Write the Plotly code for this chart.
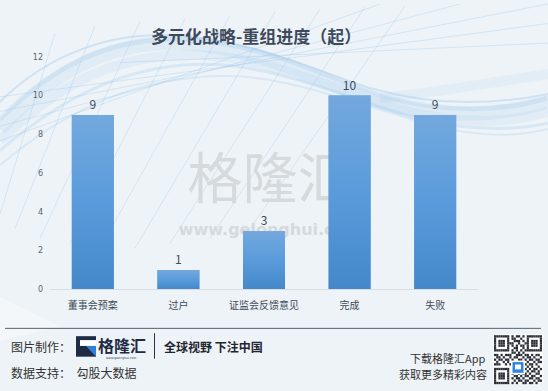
import plotly.graph_objects as go

# ---- data ----
categories = ["董事会预案", "过户", "证监会反馈意见", "完成", "失败"]
counts = [9, 1, 3, 10, 9]
y_ticks = [0, 2, 4, 6, 8, 10, 12]

W, H = 548, 391
BAR_W = 0.49
BG = "#edf3f7"
BAR_TOP = "#73a8de"
BAR_BOTTOM = "#4488c9"
TEXT_DARK = "#3e4a5c"
FONT = "Noto Sans CJK SC"


def px(x):
    return x / W


def py(y):
    return 1 - y / H


xs = list(range(len(categories)))

fig = go.Figure()

# base bars (carry value labels)
fig.add_trace(go.Bar(
    x=xs, y=counts, width=BAR_W,
    marker=dict(color="#5a9ad8", line=dict(width=0)),
    text=[str(v) for v in counts], textposition="outside",
    textfont=dict(family=FONT, size=12, color=TEXT_DARK),
    cliponaxis=False, hoverinfo="x+y", showlegend=False,
))

# vertical gradient over each bar, light at the top, darker at the base
for i, v in zip(xs, counts):
    x0, x1 = i - BAR_W / 2, i + BAR_W / 2
    fig.add_trace(go.Scatter(
        x=[x0, x1, x1, x0, x0], y=[0, 0, v, v, 0],
        mode="lines", line=dict(width=0), fill="toself",
        fillgradient=dict(type="vertical",
                          colorscale=[[0, BAR_BOTTOM], [0.5, "#5a9bdb"], [1, BAR_TOP]]),
        hoverinfo="skip", showlegend=False,
    ))

shapes = []

# decorative background: flowing light-blue ribbons and a faint mesh
ribbons = [
    ("M 0,128 C 60,60 120,38 180,40 C 260,44 320,80 380,100 C 440,118 500,115 548,100", 14, 0.14),
    ("M 0,118 C 60,55 120,34 185,36 C 265,40 325,75 385,95 C 445,112 505,110 548,96", 5, 0.18),
    ("M 0,140 C 70,70 130,50 200,52 C 270,56 330,86 400,108 C 460,124 510,122 548,110", 10, 0.12),
    ("M 0,100 C 50,50 110,30 170,32 C 250,36 310,66 370,86 C 430,104 490,104 548,92", 2, 0.3),
    ("M 0,150 C 80,80 150,58 220,62 C 290,68 350,98 420,118 C 480,132 520,128 548,122", 3, 0.22),
    ("M 0,165 C 80,95 160,70 240,74 C 310,80 370,108 440,126 C 490,138 525,134 548,128", 2, 0.2),
    ("M 380,96 C 430,92 490,80 548,72", 10, 0.1),
]
for d, w, op in ribbons:
    pts = []
    for tok in d.split():
        if "," in tok:
            a, b = tok.split(",")
            pts.append(f"{px(float(a)):.4f},{py(float(b)):.4f}")
        else:
            pts.append(tok)
    shapes.append(dict(type="path", xref="paper", yref="paper", layer="below",
                       path=" ".join(pts),
                       line=dict(color=f"rgba(140,190,235,{op})", width=w)))

mesh = [((0, 215), (55, 30)), ((15, 230), (95, 22)), ((40, 240), (140, 18)),
        ((70, 245), (185, 15)), ((100, 250), (230, 12)), ((135, 250), (275, 8)),
        ((170, 245), (320, 5)), ((210, 240), (365, 3)), ((250, 230), (405, 2)),
        ((0, 110), (548, 0)), ((0, 125), (460, 0)), ((0, 95), (548, 20)),
        ((0, 140), (380, 0)), ((120, 60), (548, 40))]
for (xa, ya), (xb, yb) in mesh:
    shapes.append(dict(type="line", xref="paper", yref="paper", layer="below",
                       x0=px(xa), y0=py(ya), x1=px(xb), y1=py(yb),
                       line=dict(color="rgba(150,195,235,0.3)", width=1)))

# soft light streak at lower left
shapes.append(dict(type="path", xref="paper", yref="paper", layer="below",
                   path=f"M {px(0)},{py(300)} L {px(60)},{py(330)} L {px(0)},{py(345)} Z",
                   fillcolor="rgba(255,255,255,0.35)", line=dict(width=0)))

# watermark, kept beneath the bars
shapes.append(dict(type="rect", xref="paper", yref="paper", layer="below",
                   x0=px(170), x1=px(370), y0=py(215), y1=py(151),
                   line=dict(width=0), fillcolor="rgba(0,0,0,0)",
                   label=dict(text="格隆汇", textposition="middle center",
                              font=dict(family=FONT, size=55, color="#d6dadd"))))
shapes.append(dict(type="rect", xref="paper", yref="paper", layer="below",
                   x0=px(170), x1=px(370), y0=py(242), y1=py(218),
                   line=dict(width=0), fillcolor="rgba(0,0,0,0)",
                   label=dict(text="<b>www.gelonghui.com</b>", textposition="middle center",
                              font=dict(family="DejaVu Sans", size=16, color="#d6dadd"))))

# footer rule and separator
shapes.append(dict(type="line", xref="paper", yref="paper",
                   x0=px(5), x1=px(541), y0=py(332), y1=py(332),
                   line=dict(color="#56606e", width=1)))
shapes.append(dict(type="line", xref="paper", yref="paper",
                   x0=px(154.5), x1=px(154.5), y0=py(337), y1=py(363),
                   line=dict(color="#2a3342", width=1)))

# brand mark
shapes += [
    dict(type="rect", xref="paper", yref="paper", x0=px(76), x1=px(96), y0=py(361), y1=py(340),
         fillcolor="#1f2b45", line=dict(width=0)),
    dict(type="rect", xref="paper", yref="paper", x0=px(80), x1=px(96), y0=py(350), y1=py(344),
         fillcolor="#ffffff", line=dict(width=0)),
    dict(type="path", xref="paper", yref="paper",
         path=f"M {px(86)},{py(350)} L {px(96)},{py(350)} L {px(96)},{py(361)} Z",
         fillcolor="#2f7fd6", line=dict(width=0)),
]

# code block in the corner
qx0, qy0, qs = 493, 338, 50
shapes.append(dict(type="rect", xref="paper", yref="paper",
                   x0=px(qx0), x1=px(qx0 + qs), y0=py(qy0 + qs), y1=py(qy0),
                   fillcolor="#ffffff", line=dict(width=0)))
qr_rows = [
    "1111111010110101111111",
    "1000001011001001000001",
    "1011101001110101011101",
    "1011101110010011011101",
    "1011101010101101011101",
    "1000001001100101000001",
    "1111111010101011111111",
    "0000000011010100000000",
    "1101011100111011010110",
    "0110100101100101101001",
    "1011011010011010110110",
    "0100101011011101001011",
    "1110010100110010110100",
    "0000000010101101010010",
    "1111111001011010101101",
    "1000001011100101011010",
    "1011101010010110100110",
    "1011101001101011011001",
    "1011101010110100110110",
    "1000001001011011001011",
    "1111111010100110110100",
]
cell = qs / 22
for r, row in enumerate(qr_rows):
    for c, bit in enumerate(row):
        if bit == "1":
            shapes.append(dict(type="rect", xref="paper", yref="paper",
                               x0=px(qx0 + 1 + c * cell * 0.96), x1=px(qx0 + 1 + (c + 1) * cell * 0.96),
                               y0=py(qy0 + 1 + (r + 1) * cell * 1.05), y1=py(qy0 + 1 + r * cell * 1.05),
                               fillcolor="#2a2f38", line=dict(width=0)))
shapes += [
    dict(type="rect", xref="paper", yref="paper", x0=px(511), x1=px(525), y0=py(379), y1=py(365),
         fillcolor="#ffffff", line=dict(width=0)),
    dict(type="rect", xref="paper", yref="paper", x0=px(512.5), x1=px(523.5), y0=py(377.5), y1=py(366.5),
         fillcolor="#2f86e0", line=dict(width=0)),
    dict(type="rect", xref="paper", yref="paper", x0=px(515), x1=px(521), y0=py(374), y1=py(369),
         fillcolor="#ffffff", line=dict(width=0)),
]

annotations = [
    dict(text="<b>多元化战略-重组进度（起）</b>", x=px(256), y=py(32), xref="paper", yref="paper",
         showarrow=False, xanchor="center", yanchor="middle",
         font=dict(family=FONT, size=17, color=TEXT_DARK)),
    dict(text="图片制作：", x=px(9), y=py(351), xref="paper", yref="paper", showarrow=False,
         xanchor="left", yanchor="middle", font=dict(family=FONT, size=12, color="#333333")),
    dict(text="<b>格隆汇</b>", x=px(96), y=py(349), xref="paper", yref="paper", showarrow=False,
         xanchor="left", yanchor="middle", font=dict(family=FONT, size=16, color="#1f2b45")),
    dict(text="www.gelonghui.com", x=px(121), y=py(362), xref="paper", yref="paper", showarrow=False,
         xanchor="center", yanchor="middle", font=dict(family="DejaVu Sans", size=3, color="#1f2b45")),
    dict(text="<b>全球视野 下注中国</b>", x=px(162), y=py(351), xref="paper", yref="paper",
         showarrow=False, xanchor="left", yanchor="middle",
         font=dict(family=FONT, size=12, color="#1f2630")),
    dict(text="数据支持：  勾股大数据", x=px(9), y=py(377), xref="paper", yref="paper",
         showarrow=False, xanchor="left", yanchor="middle",
         font=dict(family=FONT, size=12, color="#333333")),
    dict(text="下载格隆汇App", x=px(488), y=py(362), xref="paper", yref="paper", showarrow=False,
         xanchor="right", yanchor="middle", font=dict(family=FONT, size=11, color="#333333")),
    dict(text="获取更多精彩内容", x=px(489), y=py(379), xref="paper", yref="paper",
         showarrow=False, xanchor="right", yanchor="middle",
         font=dict(family=FONT, size=11, color="#333333")),
]

fig.update_layout(
    width=W, height=H,
    margin=dict(l=0, r=0, t=0, b=0),
    paper_bgcolor=BG, plot_bgcolor="rgba(0,0,0,0)",
    showlegend=False, bargap=0.51,
    shapes=shapes, annotations=annotations,
    xaxis=dict(domain=[px(50), px(478)], range=[-0.5, len(categories) - 0.5],
               tickmode="array", tickvals=xs, ticktext=categories,
               showgrid=False, zeroline=False, showline=True,
               linecolor="#d8dde3", linewidth=1, ticks="",
               tickfont=dict(family=FONT, size=10, color="#404a58"),
               ticklabelstandoff=7, fixedrange=True),
    yaxis=dict(domain=[py(292), py(54)], range=[0, 12],
               tickmode="array", tickvals=y_ticks, ticktext=[str(t) for t in y_ticks],
               showgrid=False, zeroline=False, showline=False, ticks="",
               tickfont=dict(family="DejaVu Sans", size=8, color="#5a6473"),
               ticklabelstandoff=6, fixedrange=True),
)

fig.write_html("out.html")
